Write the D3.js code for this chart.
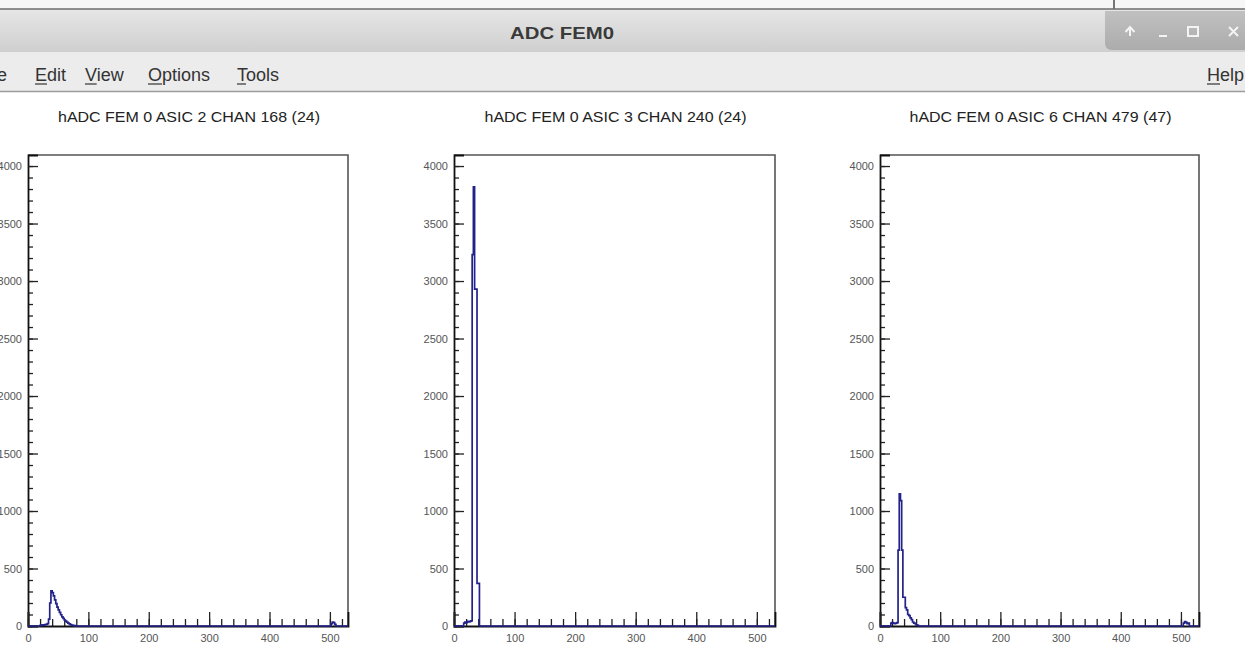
<!DOCTYPE html>
<html><head><meta charset="utf-8">
<script src="https://cdn.jsdelivr.net/npm/d3@7"></script>
<style>body{margin:0;background:#fff;overflow:hidden}</style>
</head><body>
<svg id="c" width="1245" height="645"></svg>
<script>
// ---- data ----
const windowTitle = "ADC FEM0";
const menuItems = ["Edit", "View", "Options", "Tools"];
const helpItem = "Help";
const panelTitles = [
  "hADC FEM 0 ASIC 2 CHAN 168 (24)",
  "hADC FEM 0 ASIC 3 CHAN 240 (24)",
  "hADC FEM 0 ASIC 6 CHAN 479 (47)"
];
const xTicks = [0, 100, 200, 300, 400, 500];
const yTicks = [0, 500, 1000, 1500, 2000, 2500, 3000, 3500, 4000];
const binWidth = 2;
// panel 1 : ASIC 2 CHAN 168
const p1BinLows = [20, 22, 24, 26, 28, 30, 32, 34, 36, 38, 40, 42, 44, 46, 48, 50, 52, 54, 56, 58, 60, 62, 64, 66, 68, 70, 72, 74, 76, 502, 504, 506, 508];
const p1Counts  = [5, 8, 10, 8, 12, 15, 20, 60, 200, 305, 290, 262, 228, 195, 165, 140, 118, 98, 80, 66, 52, 42, 33, 25, 18, 12, 8, 5, 3, 20, 35, 30, 15];
// panel 2 : ASIC 3 CHAN 240
const p2BinLows = [16, 18, 20, 22, 24, 26, 28, 30, 32, 34, 36, 38, 40];
const p2Counts  = [25, 35, 30, 40, 35, 40, 45, 3230, 3820, 2930, 2930, 370, 370];
// panel 3 : ASIC 6 CHAN 479
const p3BinLows = [18, 20, 22, 24, 26, 28, 30, 32, 34, 36, 38, 40, 42, 44, 46, 48, 50, 52, 54, 56, 58, 60, 62, 504, 506, 508, 510, 512];
const p3Counts  = [25, 30, 25, 20, 25, 30, 660, 1150, 1090, 660, 250, 250, 160, 140, 100, 90, 70, 55, 35, 25, 20, 10, 5, 25, 38, 32, 20, 25];

const histLows = [p1BinLows, p2BinLows, p3BinLows];
const histCounts = [p1Counts, p2Counts, p3Counts];

// ---- layout ----
const svg = d3.select("#c");
const defs = svg.append("defs");
const g1 = defs.append("linearGradient").attr("id", "tb").attr("x1", 0).attr("x2", 0).attr("y1", 0).attr("y2", 1);
g1.append("stop").attr("offset", "0%").attr("stop-color", "#e6e6e6");
g1.append("stop").attr("offset", "100%").attr("stop-color", "#cfcfcf");
const g2 = defs.append("linearGradient").attr("id", "cb").attr("x1", 0).attr("x2", 0).attr("y1", 0).attr("y2", 1);
g2.append("stop").attr("offset", "0%").attr("stop-color", "#c0c0c0");
g2.append("stop").attr("offset", "100%").attr("stop-color", "#acacac");

// window chrome
svg.append("rect").attr("x", 0).attr("y", 0).attr("width", 1245).attr("height", 9).attr("fill", "#f7f7f7");
svg.append("line").attr("x1", 1114).attr("x2", 1114).attr("y1", 0).attr("y2", 9).attr("stroke", "#777").attr("stroke-width", 2);
svg.append("rect").attr("x", 0).attr("y", 9).attr("width", 1245).attr("height", 43).attr("fill", "url(#tb)");
svg.append("line").attr("x1", 0).attr("x2", 1245).attr("y1", 9).attr("y2", 9).attr("stroke", "#6e6e6e").attr("stroke-width", 1.5);
svg.append("rect").attr("x", 0).attr("y", 52).attr("width", 1245).attr("height", 39).attr("fill", "#ececec");
svg.append("line").attr("x1", 0).attr("x2", 1245).attr("y1", 91.5).attr("y2", 91.5).attr("stroke", "#9c9c9c").attr("stroke-width", 1.5);

svg.append("text").attr("x", 562).attr("y", 39).attr("text-anchor", "middle")
  .attr("font-family", "Liberation Sans, Arial, sans-serif").attr("font-weight", "bold").attr("font-size", 17)
  .attr("fill", "#3a3a3a").attr("textLength", 104).attr("lengthAdjust", "spacingAndGlyphs").text(windowTitle);

// control box
svg.append("path").attr("d", "M1105,11 H1245 V50 H1112 Q1105,50 1105,43 Z").attr("fill", "url(#cb)");
const ctl = svg.append("g").attr("stroke", "#f4f4f4").attr("stroke-width", 2).attr("fill", "none");
ctl.append("path").attr("d", "M1130,36 V28 M1125.5,32 L1130,27 L1134.5,32");
ctl.append("line").attr("x1", 1159).attr("x2", 1167).attr("y1", 36).attr("y2", 36);
ctl.append("rect").attr("x", 1188).attr("y", 27).attr("width", 10).attr("height", 9);
ctl.append("path").attr("d", "M1229,27 L1238,36 M1238,27 L1229,36");

// menu
const menuX = [35, 85, 148, 237];
const menu = svg.append("g").attr("font-family", "Liberation Sans, Arial, sans-serif").attr("font-size", 18).attr("fill", "#333");
menu.append("text").attr("x", 7).attr("y", 81).attr("text-anchor", "end").text("File");
menuItems.forEach((m, i) => {
  const t = menu.append("text").attr("x", menuX[i]).attr("y", 81).text(m);
  const first = t.node().getSubStringLength(0, 1);
  menu.append("line").attr("x1", menuX[i]).attr("x2", menuX[i] + first).attr("y1", 84).attr("y2", 84).attr("stroke", "#333").attr("stroke-width", 1.2);
});
{
  const t = menu.append("text").attr("x", 1207).attr("y", 81).text(helpItem);
  const first = t.node().getSubStringLength(0, 1);
  menu.append("line").attr("x1", 1207).attr("x2", 1207 + first).attr("y1", 84).attr("y2", 84).attr("stroke", "#333").attr("stroke-width", 1.2);
}

// panels
const panels = [{l: 28, r: 348}, {l: 454, r: 775}, {l: 880, r: 1199}];
const frameTop = 155, frameBottom = 626;
const xDomain = [0, 530];
const yDomain = [0, 4096];
const xMinor = d3.range(0, 531, 20);
const yMinor = d3.range(0, 4001, 100);
const tickFont = "Liberation Sans, Arial, sans-serif";

panels.forEach((p, i) => {
  const x = d3.scaleLinear().domain(xDomain).range([p.l, p.r]);
  const y = d3.scaleLinear().domain(yDomain).range([frameBottom, frameTop]);
  const g = svg.append("g");

  // title
  g.append("text").attr("x", (p.l + p.r) / 2 + 1).attr("y", 122).attr("text-anchor", "middle")
    .attr("font-family", tickFont).attr("font-size", 14.5)
    .attr("fill", "#222").attr("textLength", 262).attr("lengthAdjust", "spacingAndGlyphs").text(panelTitles[i]);

  // frame
  g.append("path").attr("d", `M${p.l},${frameTop} H${p.r} V${frameBottom}`).attr("fill", "none")
    .attr("stroke", "#555").attr("stroke-width", 1.6);

  // y axis minor
  const yMin = g.append("g").attr("transform", `translate(${p.l},0)`)
    .call(d3.axisRight(y).tickValues(yMinor).tickSize(5).tickFormat(""));
  yMin.select(".domain").remove();
  yMin.selectAll("line").attr("stroke", "#222").attr("stroke-width", 1.3);
  // y axis major
  const yAx = g.append("g").attr("transform", `translate(${p.l},0)`)
    .attr("font-family", tickFont).attr("font-size", 11)
    .call(d3.axisRight(y).tickValues(yTicks).tickSize(10).tickFormat(d3.format("d")));
  yAx.attr("font-family", tickFont).attr("font-size", 11);
  yAx.select(".domain").attr("stroke", "#111").attr("stroke-width", 1.8);
  yAx.selectAll("line").attr("stroke", "#222").attr("stroke-width", 1.3);
  yAx.selectAll("text").attr("text-anchor", "end").attr("x", -6).attr("dy", "0.35em")
    .attr("fill", "#555");

  // x axis minor
  const xMin = g.append("g").attr("transform", `translate(0,${frameBottom})`)
    .call(d3.axisTop(x).tickValues(xMinor).tickSize(7).tickFormat(""));
  xMin.select(".domain").remove();
  xMin.selectAll("line").attr("stroke", "#222").attr("stroke-width", 1.3);
  // x axis major
  const xAx = g.append("g").attr("transform", `translate(0,${frameBottom})`)
    .call(d3.axisTop(x).tickValues(xTicks).tickSize(14).tickFormat(d3.format("d")));
  xAx.attr("font-family", tickFont).attr("font-size", 11);
  xAx.select(".domain").attr("stroke", "#111").attr("stroke-width", 1.8);
  xAx.selectAll("line").attr("stroke", "#222").attr("stroke-width", 1.3);
  xAx.selectAll("text").attr("y", 16).attr("dy", 0).attr("fill", "#555");

  // histogram
  const lows = histLows[i], counts = histCounts[i];
  const pts = [[xDomain[0], 0]];
  lows.forEach((lo, k) => {
    pts.push([lo, counts[k]]);
    if (k === lows.length - 1 || lows[k + 1] !== lo + binWidth) pts.push([lo + binWidth, 0]);
  });
  pts.push([xDomain[1], 0]);
  const line = d3.line().x(d => x(d[0])).y(d => y(d[1])).curve(d3.curveStepAfter);
  g.append("path").attr("d", line(pts)).attr("fill", "none")
    .attr("stroke", "#22228a").attr("stroke-width", 1.7);
});
</script>
</body></html>
